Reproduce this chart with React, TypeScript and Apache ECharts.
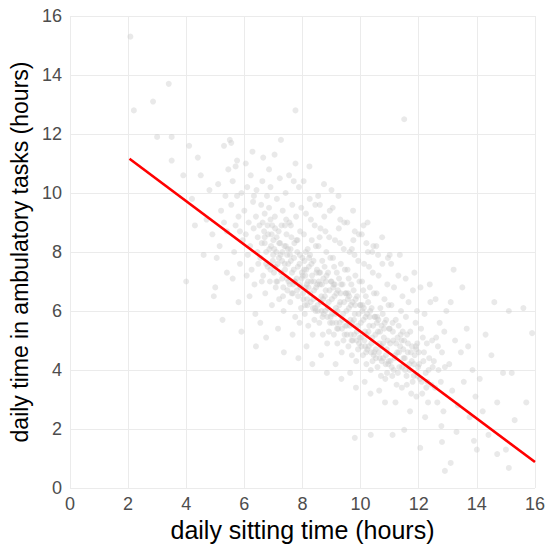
import React, { useEffect, useRef } from "react";
import * as echarts from "echarts";

// daily sitting time (hours), daily time in ambulatory tasks (hours)
const outlierPoints: [number, number][] = [
  [2.08, 15.3], [2.2, 12.8], [2.86, 13.1], [3.4, 13.7], [3.0, 11.9], [3.5, 11.9], [3.5, 11.1],
  [7.76, 12.8], [11.5, 12.5], [10.2, 8.3], [13.2, 7.4], [3.9, 10.6], [4.1, 11.6], [5.5, 11.8],
  [4.0, 7.0], [5.0, 6.8], [9.8, 1.7], [10.35, 1.8], [12.05, 1.36], [12.9, 0.58], [13.1, 0.85],
  [12.8, 1.56], [14.0, 1.3], [14.7, 1.15], [15.1, 0.68], [11.1, 1.8], [11.5, 1.97],
];

const leftPoints: [number, number][] = [
  [4.2, 9.8], [4.5, 10.6], [4.7, 9.1], [4.9, 8.6], [4.4, 11.2], [4.8, 10.1], [4.95, 6.5], [4.6, 7.9], [4.3, 8.9],
  [5.1, 10.3], [5.2, 9.4], [5.3, 11.6], [5.4, 8.7], [5.05, 7.8], [5.35, 9.9], [5.45, 10.8], [5.15, 8.2], [5.25, 5.7], [5.4, 7.3], [5.3, 9.0],
  [5.55, 9.6], [5.6, 10.4], [5.7, 8.9], [5.75, 11.1], [5.8, 9.2], [5.85, 7.6], [5.9, 10.0], [5.95, 8.4], [5.6, 7.1], [5.65, 8.0],
  [5.7, 10.9], [5.8, 6.3], [5.9, 5.3], [5.55, 11.7], [5.75, 9.9], [5.85, 8.7],
  [6.0, 9.4], [6.05, 8.6], [6.1, 10.2], [6.12, 7.9], [6.15, 9.0], [6.2, 8.2], [6.22, 10.6], [6.25, 7.4], [6.3, 9.7], [6.32, 8.8],
  [6.35, 6.9], [6.4, 9.2], [6.42, 10.1], [6.45, 8.0], [6.48, 7.6], [6.05, 11.0], [6.18, 6.5], [6.28, 11.4], [6.38, 5.9], [6.46, 8.5],
  [6.08, 7.2], [6.33, 9.9], [6.4, 4.8],
  [6.52, 8.9], [6.55, 7.8], [6.58, 9.6], [6.6, 8.3], [6.62, 10.4], [6.65, 7.2], [6.68, 8.7], [6.7, 9.3], [6.72, 6.6], [6.75, 8.0],
  [6.78, 9.9], [6.8, 7.5], [6.82, 8.6], [6.85, 10.8], [6.88, 7.0], [6.9, 9.1], [6.92, 8.2], [6.95, 6.2], [6.98, 7.7], [6.55, 5.6],
  [6.65, 11.2], [6.75, 5.1], [6.85, 9.5], [6.6, 7.0], [6.7, 8.5], [6.9, 10.2], [6.96, 8.9], [6.63, 9.0],
];

const middlePoints: [number, number][] = [
  [7.0, 8.4], [7.02, 7.3], [7.05, 9.2], [7.08, 6.8], [7.1, 8.0], [7.12, 9.8], [7.15, 7.6], [7.18, 8.7], [7.2, 6.4], [7.22, 10.5],
  [7.25, 7.9], [7.28, 8.9], [7.3, 7.1], [7.32, 9.4], [7.35, 6.0], [7.38, 8.2], [7.4, 7.4], [7.42, 10.0], [7.45, 8.6], [7.48, 6.7],
  [7.04, 11.3], [7.16, 5.4], [7.26, 11.8], [7.36, 4.6], [7.44, 9.1], [7.1, 7.0], [7.2, 8.3], [7.3, 7.7], [7.4, 8.9], [7.47, 7.9],
  [7.06, 8.8], [7.33, 6.5],
  [7.5, 8.1], [7.52, 7.0], [7.55, 9.0], [7.58, 6.3], [7.6, 7.7], [7.62, 8.5], [7.65, 9.6], [7.68, 6.9], [7.7, 7.4], [7.72, 8.3],
  [7.75, 5.8], [7.78, 9.2], [7.8, 7.1], [7.82, 8.0], [7.85, 6.5], [7.88, 10.2], [7.9, 7.6], [7.92, 8.7], [7.95, 6.1], [7.98, 7.3],
  [7.54, 10.6], [7.66, 5.2], [7.76, 11.0], [7.86, 4.4], [7.96, 9.5], [7.57, 7.9], [7.63, 6.6], [7.73, 7.0], [7.83, 8.4], [7.93, 6.8],
  [7.6, 8.9], [7.7, 10.4], [7.9, 5.6],
  [8.0, 7.8], [8.02, 6.6], [8.05, 8.6], [8.08, 5.9], [8.1, 7.2], [8.12, 9.3], [8.15, 6.9], [8.18, 8.1], [8.2, 5.5], [8.22, 7.5],
  [8.25, 9.8], [8.28, 6.3], [8.3, 7.0], [8.32, 8.4], [8.35, 5.2], [8.38, 7.7], [8.4, 6.7], [8.42, 8.9], [8.45, 6.0], [8.48, 7.3],
  [8.04, 10.4], [8.14, 4.8], [8.24, 10.9], [8.34, 4.2], [8.44, 9.6], [8.06, 7.4], [8.16, 6.4], [8.26, 7.9], [8.36, 6.1], [8.46, 8.2],
  [8.11, 8.0], [8.21, 6.8], [8.31, 7.6], [8.41, 5.7], [8.09, 6.2], [8.29, 9.1],
  [8.5, 7.4], [8.52, 6.2], [8.55, 8.2], [8.58, 5.6], [8.6, 6.9], [8.62, 8.8], [8.65, 6.5], [8.68, 7.7], [8.7, 5.2], [8.72, 7.1],
  [8.75, 9.2], [8.78, 6.0], [8.8, 6.7], [8.82, 8.0], [8.85, 4.9], [8.88, 7.3], [8.9, 6.3], [8.92, 8.5], [8.95, 5.6], [8.98, 7.0],
  [8.54, 9.9], [8.64, 4.5], [8.74, 10.3], [8.84, 3.9], [8.94, 9.4], [8.56, 7.0], [8.66, 6.0], [8.76, 7.5], [8.86, 5.8], [8.96, 7.8],
  [8.61, 7.3], [8.71, 6.4], [8.81, 7.0], [8.91, 5.3], [8.59, 8.5], [8.79, 8.7], [8.69, 5.8], [8.6, 9.6],
  [9.0, 7.0], [9.02, 5.9], [9.05, 7.8], [9.08, 5.2], [9.1, 6.5], [9.12, 8.4], [9.15, 6.1], [9.18, 7.3], [9.2, 4.9], [9.22, 6.7],
  [9.25, 8.8], [9.28, 5.6], [9.3, 6.3], [9.32, 7.6], [9.35, 4.6], [9.38, 6.9], [9.4, 5.9], [9.42, 8.1], [9.45, 5.2], [9.48, 6.6],
  [9.04, 9.5], [9.14, 4.2], [9.24, 9.9], [9.34, 3.7], [9.44, 9.0], [9.06, 6.8], [9.16, 5.6], [9.26, 7.1], [9.36, 5.4], [9.46, 7.4],
  [9.11, 6.9], [9.21, 6.0], [9.31, 6.6], [9.41, 5.0], [9.09, 7.5], [9.29, 8.3], [9.19, 5.4], [9.3, 9.1], [9.0, 10.1],
  [9.5, 6.6], [9.52, 5.5], [9.55, 7.4], [9.58, 4.8], [9.6, 6.1], [9.62, 8.0], [9.65, 5.7], [9.68, 6.9], [9.7, 4.5], [9.72, 6.3],
  [9.75, 8.4], [9.78, 5.2], [9.8, 5.9], [9.82, 7.2], [9.85, 4.3], [9.88, 6.5], [9.9, 5.5], [9.92, 7.7], [9.95, 4.9], [9.98, 6.2],
  [9.54, 9.0], [9.64, 3.9], [9.74, 9.4], [9.84, 3.4], [9.94, 8.6], [9.56, 6.4], [9.66, 5.2], [9.76, 6.7], [9.86, 5.0], [9.96, 7.0],
  [9.61, 6.5], [9.71, 5.6], [9.81, 6.2], [9.91, 4.7], [9.59, 7.1], [9.79, 7.9], [9.69, 5.0], [9.8, 8.7], [9.7, 8.1],
];

const rightPoints: [number, number][] = [
  [10.0, 6.2], [10.02, 5.1], [10.05, 7.0], [10.08, 4.5], [10.1, 5.7], [10.12, 7.6], [10.15, 5.3], [10.18, 6.5], [10.2, 4.2], [10.22, 5.9],
  [10.25, 8.0], [10.28, 4.8], [10.3, 5.5], [10.32, 6.8], [10.35, 4.0], [10.38, 6.1], [10.4, 5.1], [10.42, 7.3], [10.45, 4.5], [10.48, 5.8],
  [10.04, 8.6], [10.14, 3.6], [10.24, 9.0], [10.34, 3.2], [10.44, 8.2], [10.06, 6.0], [10.16, 4.8], [10.26, 6.3], [10.36, 4.6], [10.46, 6.6],
  [10.11, 6.1], [10.21, 5.2], [10.31, 5.8], [10.41, 4.3], [10.09, 6.7], [10.29, 7.5], [10.19, 4.6], [10.1, 8.9], [10.4, 8.0],
  [10.5, 5.8], [10.52, 4.7], [10.55, 6.6], [10.58, 4.1], [10.6, 5.3], [10.62, 7.2], [10.65, 4.9], [10.68, 6.1], [10.7, 3.8], [10.72, 5.5],
  [10.75, 7.6], [10.78, 4.4], [10.8, 5.1], [10.82, 6.4], [10.85, 3.7], [10.88, 5.7], [10.9, 4.7], [10.92, 6.9], [10.95, 4.2], [10.98, 5.4],
  [10.54, 8.2], [10.64, 3.3], [10.74, 8.5], [10.84, 2.9], [10.94, 7.8], [10.56, 5.6], [10.66, 4.4], [10.76, 5.9], [10.86, 4.2], [10.96, 6.2],
  [10.61, 5.7], [10.71, 4.8], [10.81, 5.4], [10.91, 3.9], [10.6, 7.9],
  [11.0, 5.4], [11.03, 4.3], [11.06, 6.2], [11.09, 3.8], [11.12, 5.0], [11.15, 6.8], [11.18, 4.5], [11.21, 5.7], [11.24, 3.5], [11.27, 5.1],
  [11.3, 7.2], [11.33, 4.1], [11.36, 4.8], [11.39, 6.0], [11.42, 3.4], [11.45, 5.3], [11.48, 4.4], [11.05, 7.6], [11.2, 2.9], [11.35, 7.9],
  [11.44, 6.5], [11.1, 5.6], [11.26, 4.6], [11.41, 5.0], [11.14, 4.0], [11.31, 5.5], [11.0, 7.9],
  [11.5, 5.0], [11.53, 4.0], [11.56, 5.8], [11.59, 3.5], [11.62, 4.6], [11.65, 6.3], [11.68, 4.2], [11.71, 5.3], [11.74, 3.2], [11.77, 4.8],
  [11.8, 6.7], [11.83, 3.8], [11.86, 4.5], [11.89, 5.6], [11.92, 3.1], [11.95, 4.9], [11.98, 4.1], [11.55, 7.1], [11.7, 2.6], [11.85, 7.3],
  [11.94, 6.0], [11.6, 5.2], [11.76, 4.3], [11.91, 4.7],
  [12.0, 4.6], [12.04, 3.7], [12.08, 5.4], [12.12, 3.2], [12.16, 4.3], [12.2, 5.9], [12.24, 3.9], [12.28, 4.9], [12.32, 2.9], [12.36, 4.4],
  [12.4, 6.3], [12.44, 3.5], [12.48, 4.1], [12.06, 6.8], [12.22, 2.4], [12.38, 6.9], [12.14, 5.1], [12.3, 3.6], [12.46, 5.0],
  [12.52, 4.3], [12.56, 3.4], [12.6, 5.1], [12.64, 2.9], [12.68, 4.0], [12.72, 5.6], [12.76, 3.6], [12.8, 4.6], [12.85, 2.6], [12.9, 4.1],
  [12.95, 6.0], [12.58, 6.4], [12.78, 2.1], [12.88, 5.3], [12.66, 4.8],
  [13.05, 4.2], [13.15, 3.3], [13.25, 5.0], [13.35, 2.8], [13.45, 4.6], [13.55, 3.6], [13.65, 5.4], [13.75, 2.4], [13.85, 4.0], [13.95, 3.1],
  [13.1, 6.3], [13.3, 1.9], [13.5, 6.8], [13.7, 4.8], [13.9, 1.6],
  [14.1, 3.7], [14.3, 5.2], [14.5, 4.5], [14.7, 2.9], [14.9, 3.9], [15.1, 6.0], [15.3, 2.3], [15.6, 6.1], [15.9, 5.25], [15.2, 3.9],
  [14.4, 1.8], [15.0, 1.3], [14.6, 6.3], [15.7, 2.9], [14.2, 2.6],
];

// dense core of the cloud, close to the fitted line
const corePoints: [number, number][] = [
  [6.7, 8.3], [6.75, 7.6], [6.8, 8.9], [6.86, 8.1], [6.9, 7.4], [6.94, 8.6], [6.99, 7.9],
  [7.03, 8.1], [7.07, 7.5], [7.11, 8.5], [7.14, 7.0], [7.19, 7.8], [7.23, 8.3], [7.27, 7.3], [7.31, 8.0], [7.34, 6.8], [7.39, 7.6], [7.43, 8.2], [7.46, 7.1],
  [7.51, 7.6], [7.56, 6.9], [7.59, 8.1], [7.64, 7.3], [7.67, 6.6], [7.71, 7.8], [7.74, 7.0], [7.79, 8.4], [7.81, 6.7], [7.84, 7.5], [7.89, 6.9], [7.91, 7.9], [7.97, 7.1],
  [8.01, 7.2], [8.03, 6.4], [8.07, 7.7], [8.11, 6.8], [8.13, 7.4], [8.17, 6.2], [8.19, 7.0], [8.23, 7.8], [8.27, 6.6], [8.33, 7.2], [8.37, 6.4], [8.39, 7.0], [8.43, 6.1], [8.47, 6.8],
  [8.51, 6.9], [8.53, 6.0], [8.57, 7.3], [8.63, 6.3], [8.67, 6.9], [8.73, 5.9], [8.77, 6.5], [8.83, 7.2], [8.87, 6.1], [8.93, 6.7], [8.97, 5.8],
  [9.01, 6.4], [9.03, 5.6], [9.07, 6.9], [9.13, 5.9], [9.17, 6.6], [9.23, 5.4], [9.27, 6.2], [9.33, 6.9], [9.37, 5.7], [9.43, 6.3], [9.47, 5.5],
  [9.51, 6.0], [9.53, 5.2], [9.57, 6.6], [9.63, 5.5], [9.67, 6.2], [9.73, 5.0], [9.77, 5.7], [9.83, 6.4], [9.87, 5.3], [9.93, 5.9], [9.97, 5.1],
  [10.01, 5.6], [10.03, 4.8], [10.07, 6.2], [10.13, 5.0], [10.17, 5.8], [10.23, 4.7], [10.27, 5.3], [10.33, 6.0], [10.37, 4.9], [10.43, 5.5], [10.47, 4.6],
  [10.51, 5.2], [10.53, 4.4], [10.57, 5.8], [10.63, 4.6], [10.67, 5.3], [10.73, 4.3], [10.77, 4.9], [10.83, 5.6], [10.87, 4.5], [10.93, 5.0], [10.97, 4.3],
  [11.02, 4.9], [11.07, 4.1], [11.11, 5.3], [11.17, 4.4], [11.22, 4.9], [11.28, 3.9], [11.32, 4.6], [11.38, 5.2], [11.43, 4.1], [11.47, 4.7],
  [11.52, 4.4], [11.58, 3.8], [11.63, 4.9], [11.69, 4.0], [11.73, 4.6], [11.79, 3.6], [11.84, 4.2], [11.9, 4.8], [11.96, 3.8],
  [12.02, 4.2], [12.1, 3.6], [12.18, 4.6], [12.26, 3.4], [12.34, 4.0],
];

// fitted regression line endpoints
const fitLine: [number, number][] = [
  [2.05, 11.16],
  [16, 0.88],
];

const axisMin = 0;
const axisMax = 16;
const tickStep = 2;

export default function App() {
  const ref = useRef<HTMLDivElement>(null);

  useEffect(() => {
    if (!ref.current) return;
    const chart = echarts.init(ref.current, undefined, { renderer: "svg" });
    const font = "'Liberation Sans', Arial, Helvetica, sans-serif";
    const allPoints = [...outlierPoints, ...leftPoints, ...middlePoints, ...rightPoints, ...corePoints];
    chart.setOption({
      animation: false,
      backgroundColor: "#ffffff",
      textStyle: { fontFamily: font },
      grid: { left: 65, right: 15, top: 16, bottom: 62, containLabel: false },
      xAxis: {
        type: "value",
        min: axisMin,
        max: axisMax,
        interval: tickStep,
        axisLine: { show: false },
        axisTick: { show: false },
        splitLine: { show: true, lineStyle: { color: "#ebebeb", width: 1 } },
        axisLabel: { color: "#4d4d4d", fontSize: 18, margin: 7, fontFamily: font },
        name: "daily sitting time (hours)",
        nameLocation: "middle",
        nameGap: 29,
        nameTextStyle: { color: "#000000", fontSize: 25, fontFamily: font },
      },
      yAxis: {
        type: "value",
        min: axisMin,
        max: axisMax,
        interval: tickStep,
        axisLine: { show: false },
        axisTick: { show: false },
        splitLine: { show: true, lineStyle: { color: "#ebebeb", width: 1 } },
        axisLabel: { color: "#4d4d4d", fontSize: 18, margin: 8, fontFamily: font },
        name: "daily time in ambulatory tasks (hours)",
        nameLocation: "middle",
        nameGap: 31,
        nameTextStyle: { color: "#000000", fontSize: 23, fontFamily: font },
      },
      series: [
        {
          type: "scatter",
          data: allPoints,
          symbolSize: 6,
          itemStyle: { color: "#c8c8c8", opacity: 0.4 },
          silent: true,
        },
        {
          type: "line",
          data: fitLine,
          symbol: "none",
          lineStyle: { color: "#ff0000", width: 2.6 },
          silent: true,
        },
      ],
    });
    return () => chart.dispose();
  }, []);

  return <div ref={ref} style={{ width: 550, height: 550, position: "absolute", left: 0, top: 0 }} />;
}
